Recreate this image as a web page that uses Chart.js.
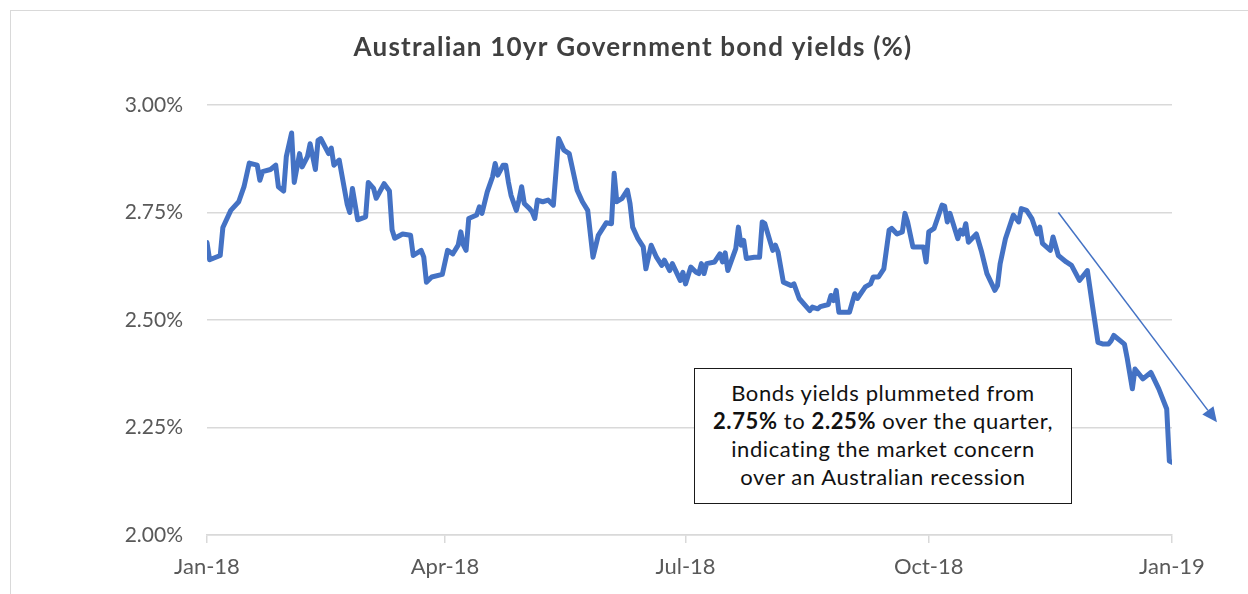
<!DOCTYPE html>
<html>
<head>
<meta charset="utf-8">
<title>Australian 10yr Government bond yields</title>
<script src="https://cdn.jsdelivr.net/npm/chart.js@4.4.1/dist/chart.umd.min.js"></script>
<style>
  html, body { margin: 0; padding: 0; background: #fff; }
  #wrap { position: relative; width: 1248px; height: 594px; overflow: hidden; }
  #frame { position: absolute; left: 10px; top: 10px; width: 1246px; height: 700px; border: 1.5px solid #d9d9d9; }
  #chart { position: absolute; left: 0; top: 0; }
  #note {
    position: absolute; left: 694px; top: 368px; width: 378px; height: 136px;
    box-sizing: border-box; border: 1.5px solid #1a1a1a; background: #fff;
    font-family: Lato, sans-serif; font-size: 22px; line-height: 28px; letter-spacing: 0.6px;
    text-align: center; color: #111; padding-top: 10px; white-space: nowrap;
  }
</style>
</head>
<body>
<div id="wrap">
  <div id="frame"></div>
  <canvas id="chart" width="1248" height="594"></canvas>
  <div id="note">Bonds yields plummeted from<br><b>2.75%</b> to <b>2.25%</b> over the quarter,<br>indicating the market concern<br>over an Australian recession</div>
</div>
<script>
const chartTitle = 'Australian 10yr Government bond yields (%)';

// fechas de las lecturas (aprox.)
const dates = [
  '2018-01-01','2018-01-02','2018-01-06','2018-01-07','2018-01-10','2018-01-13','2018-01-15','2018-01-17',
  '2018-01-20','2018-01-21','2018-01-22','2018-01-25','2018-01-27','2018-01-28','2018-01-30','2018-01-31',
  '2018-02-02','2018-02-03','2018-02-05','2018-02-06','2018-02-08','2018-02-09','2018-02-11','2018-02-12',
  '2018-02-13','2018-02-16','2018-02-17','2018-02-18','2018-02-20','2018-02-23','2018-02-24','2018-02-25',
  '2018-02-27','2018-03-02','2018-03-03','2018-03-05','2018-03-06','2018-03-09','2018-03-11','2018-03-12',
  '2018-03-13','2018-03-16','2018-03-19','2018-03-20','2018-03-23','2018-03-24','2018-03-25','2018-03-27',
  '2018-03-31','2018-04-02','2018-04-04','2018-04-06','2018-04-07','2018-04-08','2018-04-09','2018-04-10',
  '2018-04-13','2018-04-14','2018-04-15','2018-04-17','2018-04-19','2018-04-20','2018-04-21','2018-04-23',
  '2018-04-24','2018-04-25','2018-04-26','2018-04-28','2018-04-29','2018-04-30','2018-05-01','2018-05-03',
  '2018-05-04','2018-05-05','2018-05-06','2018-05-08','2018-05-10','2018-05-12','2018-05-14','2018-05-16',
  '2018-05-18','2018-05-21','2018-05-23','2018-05-25','2018-05-27','2018-05-29','2018-06-01','2018-06-03',
  '2018-06-04','2018-06-05','2018-06-07','2018-06-09','2018-06-10','2018-06-11','2018-06-13','2018-06-15',
  '2018-06-16','2018-06-18','2018-06-20','2018-06-22','2018-06-23','2018-06-25','2018-06-26','2018-06-29',
  '2018-06-30','2018-07-01','2018-07-03','2018-07-05','2018-07-06','2018-07-07','2018-07-08','2018-07-09',
  '2018-07-12','2018-07-14','2018-07-15','2018-07-16','2018-07-17','2018-07-20','2018-07-21','2018-07-22',
  '2018-07-23','2018-07-24','2018-07-27','2018-07-29','2018-07-30','2018-07-31','2018-08-03','2018-08-04',
  '2018-08-05','2018-08-07','2018-08-10','2018-08-11','2018-08-13','2018-08-17','2018-08-18','2018-08-20',
  '2018-08-21','2018-08-24','2018-08-25','2018-08-26','2018-08-27','2018-08-28','2018-09-01','2018-09-03',
  '2018-09-04','2018-09-07','2018-09-09','2018-09-10','2018-09-12','2018-09-14','2018-09-16','2018-09-17',
  '2018-09-19','2018-09-21','2018-09-22','2018-09-23','2018-09-25','2018-09-29','2018-09-30','2018-10-01',
  '2018-10-03','2018-10-06','2018-10-07','2018-10-08','2018-10-09','2018-10-12','2018-10-13','2018-10-14',
  '2018-10-15','2018-10-16','2018-10-19','2018-10-21','2018-10-23','2018-10-26','2018-10-27','2018-10-28',
  '2018-10-30','2018-11-02','2018-11-04','2018-11-05','2018-11-07','2018-11-09','2018-11-11','2018-11-12',
  '2018-11-13','2018-11-16','2018-11-17','2018-11-19','2018-11-22','2018-11-24','2018-11-27','2018-11-30',
  '2018-12-02','2018-12-04','2018-12-06','2018-12-08','2018-12-09','2018-12-10','2018-12-14','2018-12-15',
  '2018-12-17','2018-12-18','2018-12-21','2018-12-24','2018-12-27','2018-12-30','2018-12-31','2019-01-01'
];

// rendimiento en %
const yields = [
  2.680,2.640,2.650,2.715,2.755,2.775,2.810,2.865,
  2.860,2.825,2.845,2.850,2.860,2.810,2.800,2.880,
  2.935,2.820,2.887,2.856,2.880,2.910,2.850,2.918,
  2.922,2.887,2.900,2.860,2.872,2.770,2.750,2.806,
  2.733,2.740,2.820,2.806,2.783,2.817,2.800,2.710,
  2.690,2.700,2.697,2.650,2.662,2.646,2.588,2.600,
  2.606,2.662,2.654,2.674,2.705,2.674,2.662,2.736,
  2.744,2.763,2.748,2.798,2.833,2.864,2.837,2.860,
  2.860,2.821,2.790,2.755,2.779,2.810,2.771,2.759,
  2.751,2.736,2.779,2.775,2.779,2.767,2.922,2.895,
  2.887,2.802,2.775,2.755,2.646,2.697,2.726,2.724,
  2.841,2.775,2.783,2.802,2.771,2.716,2.689,2.670,
  2.619,2.674,2.646,2.627,2.639,2.615,2.631,2.592,
  2.611,2.584,2.623,2.611,2.608,2.631,2.608,2.631,
  2.635,2.654,2.635,2.656,2.615,2.666,2.716,2.674,
  2.685,2.643,2.646,2.646,2.728,2.724,2.662,2.674,
  2.658,2.588,2.580,2.584,2.550,2.522,2.530,2.526,
  2.531,2.536,2.557,2.545,2.569,2.518,2.518,2.561,
  2.550,2.577,2.584,2.600,2.600,2.619,2.709,2.713,
  2.700,2.705,2.748,2.728,2.670,2.670,2.635,2.705,
  2.713,2.767,2.765,2.728,2.748,2.689,2.709,2.700,
  2.724,2.681,2.700,2.658,2.608,2.569,2.580,2.631,
  2.689,2.744,2.728,2.759,2.755,2.736,2.700,2.716,
  2.678,2.662,2.693,2.650,2.635,2.627,2.592,2.615,
  2.530,2.448,2.444,2.444,2.452,2.464,2.444,2.413,
  2.340,2.386,2.363,2.378,2.340,2.293,2.172,2.169
];

const xTickDates = ['2018-01-01','2018-04-01','2018-07-01','2018-10-01','2019-01-01'];
const xTickLabels = ['Jan-18','Apr-18','Jul-18','Oct-18','Jan-19'];
const yTicks = [2.00, 2.25, 2.50, 2.75, 3.00];

// flecha de la anotación (fecha, valor)
const arrowFrom = ['2018-11-19', 2.75];
const arrowTo = ['2019-01-18', 2.262];

const inicio = Date.UTC(2018, 0, 1);
function dia(str) {
  const p = str.split('-').map(Number);
  return (Date.UTC(p[0], p[1] - 1, p[2]) - inicio) / 86400000;
}

const tickDays = xTickDates.map(dia);
const puntos = dates.map((d, i) => ({ x: dia(d), y: yields[i] }));

const tituloPlugin = {
  id: 'tituloPlugin',
  afterDraw(chart) {
    const ctx = chart.ctx;
    ctx.save();
    ctx.font = 'bold 26px Lato, sans-serif';
    ctx.letterSpacing = '1.2px';
    ctx.fillStyle = '#404040';
    ctx.textAlign = 'center';
    ctx.textBaseline = 'middle';
    ctx.fillText(chartTitle, 633, 48);
    ctx.restore();
  }
};

const flechaPlugin = {
  id: 'flechaPlugin',
  afterDatasetsDraw(chart) {
    const { ctx, scales } = chart;
    const x1 = scales.x.getPixelForValue(dia(arrowFrom[0]));
    const y1 = scales.y.getPixelForValue(arrowFrom[1]);
    const x2 = scales.x.getPixelForValue(dia(arrowTo[0]));
    const y2 = scales.y.getPixelForValue(arrowTo[1]);
    const ang = Math.atan2(y2 - y1, x2 - x1);
    const largo = 15, ancho = 7;
    const bx = x2 - largo * Math.cos(ang), by = y2 - largo * Math.sin(ang);
    ctx.save();
    ctx.strokeStyle = '#4472C4';
    ctx.fillStyle = '#4472C4';
    ctx.lineWidth = 1.5;
    ctx.beginPath();
    ctx.moveTo(x1, y1);
    ctx.lineTo(bx, by);
    ctx.stroke();
    ctx.beginPath();
    ctx.moveTo(x2, y2);
    ctx.lineTo(bx + ancho * Math.sin(ang), by - ancho * Math.cos(ang));
    ctx.lineTo(bx - ancho * Math.sin(ang), by + ancho * Math.cos(ang));
    ctx.closePath();
    ctx.fill();
    ctx.restore();
  }
};

new Chart(document.getElementById('chart'), {
  type: 'line',
  data: {
    datasets: [{
      label: chartTitle,
      data: puntos,
      borderColor: '#4472C4',
      borderWidth: 5,
      borderJoinStyle: 'round',
      borderCapStyle: 'round',
      pointRadius: 0,
      tension: 0,
      fill: false
    }]
  },
  options: {
    responsive: false,
    animation: false,
    layout: { padding: { top: 105, right: 76, left: 0, bottom: 0 } },
    plugins: {
      legend: { display: false },
      tooltip: { enabled: false }
    },
    scales: {
      x: {
        type: 'linear',
        min: tickDays[0],
        max: tickDays[tickDays.length - 1],
        afterBuildTicks: s => { s.ticks = tickDays.map(v => ({ value: v })); },
        afterFit: s => { s.height = 59; },
        grid: { drawOnChartArea: false, drawTicks: true, tickLength: 8, color: '#d9d9d9', lineWidth: 1.5 },
        border: { display: true, color: '#d9d9d9', width: 1.5 },
        ticks: {
          padding: 11,
          maxRotation: 0,
          color: '#595959',
          font: { family: 'Lato, sans-serif', size: 22 },
          callback: v => xTickLabels[tickDays.indexOf(v)]
        }
      },
      y: {
        min: yTicks[0],
        max: yTicks[yTicks.length - 1],
        afterBuildTicks: s => { s.ticks = yTicks.map(v => ({ value: v })); },
        afterFit: s => { s.width = 207; },
        grid: { drawTicks: false, color: '#d9d9d9', lineWidth: 1.5 },
        border: { display: false },
        ticks: {
          padding: 24,
          color: '#595959',
          font: { family: 'Lato, sans-serif', size: 21 },
          callback: v => v.toFixed(2) + '%'
        }
      }
    }
  },
  plugins: [tituloPlugin, flechaPlugin]
});
</script>
</body>
</html>
